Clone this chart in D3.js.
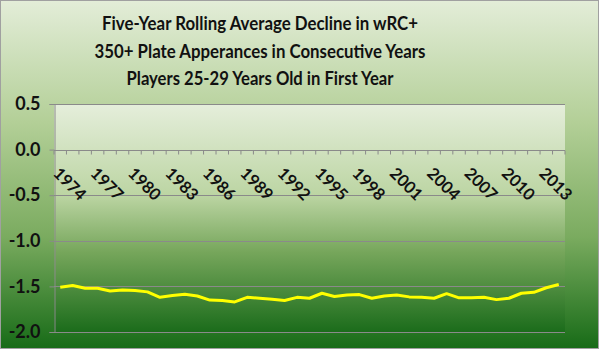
<!DOCTYPE html>
<html>
<head>
<meta charset="utf-8">
<script src="https://cdn.jsdelivr.net/npm/d3@7"></script>
<style>
html,body{margin:0;padding:0;background:#fff;}
svg{display:block;font-family:Lato, "Open Sans", sans-serif;}
</style>
</head>
<body>
<svg id="chart" width="600" height="350"></svg>
<script>
const titleLines = [
  "Five-Year Rolling Average Decline in wRC+",
  "350+ Plate Apperances in Consecutive Years",
  "Players 25-29 Years Old in First Year"
];
const years = d3.range(1974, 2015).map(String);
const labeledYears = ["1974","1977","1980","1983","1986","1989","1992","1995","1998","2001","2004","2007","2010","2013"];
const values = [
  -1.51, -1.49, -1.52, -1.52, -1.55, -1.54, -1.545, -1.56, -1.62, -1.60,
  -1.585, -1.605, -1.65, -1.655, -1.67, -1.62, -1.63, -1.64, -1.655, -1.62,
  -1.63, -1.575, -1.61, -1.595, -1.59, -1.63, -1.605, -1.595, -1.615, -1.62,
  -1.63, -1.58, -1.625, -1.625, -1.62, -1.645, -1.63, -1.575, -1.565, -1.515,
  -1.48
];
const yTicks = [0.5, 0.0, -0.5, -1.0, -1.5, -2.0];

const svg = d3.select("#chart");
const W = 600, H = 350;
const m = {left: 54, right: 35, top: 104, bottom: 18};

const defs = svg.append("defs");
const og = defs.append("linearGradient").attr("id","outerG").attr("x1",0).attr("y1",0).attr("x2",0).attr("y2",1);
[[0,"#e3edd8"],[0.35,"#b3cf97"],[0.68,"#7aab5f"],[1,"#176b17"]].forEach(s=>og.append("stop").attr("offset",s[0]).attr("stop-color",s[1]));
const pg = defs.append("linearGradient").attr("id","plotG").attr("x1",0).attr("y1",0).attr("x2",0).attr("y2",1);
[[0,"#e5eedb"],[0.4,"#bcd5a3"],[0.65,"#76a65b"],[1,"#1b6c1b"]].forEach(s=>pg.append("stop").attr("offset",s[0]).attr("stop-color",s[1]));

svg.append("rect").attr("x",0.5).attr("y",0.5).attr("width",W-2).attr("height",H-2)
  .attr("fill","url(#outerG)").attr("stroke","#a0a0a0").attr("stroke-width",1);

const x = d3.scaleBand().domain(years).range([m.left, W - m.right]).padding(0);
const y = d3.scaleLinear().domain([-2.0, 0.5]).range([332, 104]);

svg.append("rect").attr("x", m.left).attr("y", y(0.5))
  .attr("width", (W - m.right) - m.left).attr("height", y(-2.0) - y(0.5))
  .attr("fill","url(#plotG)");

// gridlines
svg.append("g").selectAll("line").data(yTicks).join("line")
  .attr("x1", m.left).attr("x2", W - m.right)
  .attr("y1", d=>Math.round(y(d))+0.5).attr("y2", d=>Math.round(y(d))+0.5)
  .attr("stroke","#8a8a8a").attr("stroke-width",1);

// y axis
const yAxis = svg.append("g").attr("transform",`translate(${m.left+0.5},0)`)
  .call(d3.axisLeft(y).tickValues(yTicks).tickFormat(d3.format(".1f")).tickSize(5).tickPadding(9));
yAxis.select(".domain").attr("stroke","#8a8a8a");
yAxis.selectAll(".tick line").attr("stroke","#8a8a8a");
yAxis.selectAll("text").attr("font-size",18).attr("font-weight","bold").attr("fill","#111")
  .attr("font-family","Lato, sans-serif")
  .text(d=>d3.format(".1f")(d).replace("−","-"));

// x axis at 0
const x0 = Math.round(y(0))+0.5;
const xg = svg.append("g").attr("transform",`translate(0,${x0})`);
xg.selectAll("line.tk").data(years.concat(["end"])).join("line").attr("class","tk")
  .attr("x1", d=> d==="end" ? W-m.right : x(d)).attr("x2", d=> d==="end" ? W-m.right : x(d))
  .attr("y1",0).attr("y2",4).attr("stroke","#8a8a8a");
xg.selectAll("text").data(labeledYears).join("text")
  .attr("transform", d=>`translate(${x(d)+x.bandwidth()/2+1},${15}) rotate(45)`)
  .attr("font-size",16.5).attr("font-weight","bold").attr("fill","#111")
  .attr("dominant-baseline","hanging")
  .text(d=>d);

// line
const line = d3.line().x((d,i)=>x(years[i])+x.bandwidth()/2).y(d=>y(d));
svg.append("path").datum(values).attr("d", line)
  .attr("fill","none").attr("stroke","#ffff00").attr("stroke-width",3).attr("stroke-linejoin","round");

// title
const tLens = [316, 331, 267];
svg.append("g").selectAll("text").data(titleLines).join("text")
  .attr("x", 260).attr("y",(d,i)=>30 + i*27.5)
  .attr("text-anchor","middle").attr("font-size",19.5).attr("font-weight","bold").attr("fill","#111")
  .attr("textLength",(d,i)=>tLens[i]).attr("lengthAdjust","spacingAndGlyphs")
  .text(d=>d);
</script>
</body>
</html>
